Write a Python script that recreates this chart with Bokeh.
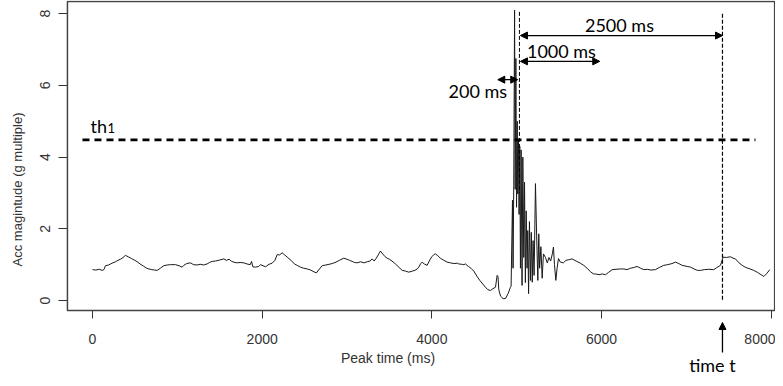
from bokeh.plotting import figure
from bokeh.models import Range1d, FixedTicker, Label, Arrow, NormalHead, ColumnDataSource, LinearAxis
from bokeh.embed import file_html
from bokeh.resources import INLINE

# ---- data ----
peak_time_ms = [
    0, 40, 80, 114, 135, 153, 190, 230, 271, 300, 330, 360, 389, 420, 460, 500, 527, 560, 600, 640,
    664, 700, 730, 762, 800, 841, 880, 920, 978, 1020, 1057, 1076, 1110, 1155, 1190, 1233, 1270, 1310, 1351, 1380,
    1410, 1450, 1500, 1548, 1580, 1610, 1640, 1666, 1700, 1740, 1784, 1820, 1860, 1875, 1890, 1921, 1960, 1980, 2040, 2080,
    2118, 2150, 2177, 2205, 2236, 2260, 2295, 2340, 2380, 2412, 2451, 2490, 2530, 2570, 2610, 2640, 2665, 2707, 2750, 2790,
    2825, 2870, 2910, 2962, 3000, 3030, 3060, 3090, 3119, 3160, 3200, 3237, 3270, 3296, 3320, 3345, 3375, 3394, 3420, 3450,
    3473, 3500, 3530, 3571, 3610, 3650, 3690, 3728, 3770, 3800, 3827, 3846, 3866, 3885, 3910, 3944, 3980, 4000, 4023, 4042,
    4070, 4100, 4141, 4180, 4220, 4259, 4300, 4317, 4350, 4377, 4396, 4430, 4460, 4494, 4530, 4565, 4600, 4632, 4660, 4691,
    4720, 4750, 4769, 4780, 4789, 4810, 4840, 4870, 4900, 4926, 4934, 4950, 4957, 4965, 4975, 4982, 4990, 4998, 5006, 5012,
    5020, 5028, 5036, 5044, 5052, 5063, 5072, 5083, 5092, 5102, 5112, 5122, 5130, 5140, 5150, 5162, 5172, 5183, 5193, 5205,
    5221, 5235, 5249, 5260, 5270, 5285, 5300, 5315, 5339, 5360, 5380, 5400, 5420, 5433, 5445, 5461, 5476, 5492, 5515, 5550,
    5580, 5620, 5653, 5700, 5750, 5790, 5830, 5870, 5906, 5928, 5970, 6010, 6046, 6080, 6125, 6170, 6223, 6262, 6300, 6340,
    6380, 6419, 6460, 6498, 6540, 6580, 6635, 6680, 6733, 6780, 6830, 6871, 6910, 6950, 7009, 7050, 7090, 7130, 7166, 7210,
    7260, 7322, 7360, 7401, 7433, 7470, 7519, 7550, 7578, 7620, 7657, 7700, 7750, 7794, 7840, 7880, 7912, 7950, 7982,
]
acc_magnitude = [
    0.86, 0.85, 0.87, 0.84, 0.86, 0.97, 0.99, 1.04, 1.08, 1.12, 1.15, 1.20, 1.26, 1.22, 1.17, 1.12, 1.08, 1.02, 0.96, 0.90,
    0.88, 0.86, 0.85, 0.84, 0.90, 0.97, 0.99, 1.00, 1.00, 0.97, 0.93, 0.98, 1.03, 1.05, 1.00, 0.99, 1.01, 0.99, 1.02, 1.06,
    1.09, 1.10, 1.13, 1.16, 1.12, 1.15, 1.09, 1.07, 1.05, 1.06, 1.05, 1.02, 1.00, 1.09, 0.94, 0.93, 0.95, 1.00, 0.94, 1.01,
    1.04, 1.12, 1.28, 1.27, 1.33, 1.28, 1.21, 1.12, 1.02, 0.98, 0.93, 0.90, 0.88, 0.85, 0.80, 0.77, 0.85, 0.97, 0.99, 1.01,
    1.03, 1.07, 1.12, 1.18, 1.15, 1.12, 1.09, 1.06, 1.05, 1.08, 1.05, 1.08, 1.10, 1.16, 1.10, 1.18, 1.30, 1.38, 1.30, 1.22,
    1.18, 1.15, 1.10, 1.02, 0.93, 0.84, 0.82, 0.79, 0.82, 0.84, 0.88, 0.93, 1.02, 1.07, 1.02, 0.98, 1.15, 1.22, 1.28, 1.30,
    1.25, 1.18, 1.12, 1.07, 1.05, 1.03, 1.04, 1.02, 1.01, 1.00, 1.02, 0.95, 0.90, 0.82, 0.68, 0.56, 0.46, 0.37, 0.30, 0.28,
    0.33, 0.37, 0.70, 0.66, 0.30, 0.12, 0.05, 0.06, 0.20, 0.37, 0.40, 2.80, 0.90, 3.20, 8.10, 3.10, 6.75, 2.60, 5.00, 2.97,
    4.50, 2.40, 4.30, 0.90, 4.20, 0.42, 4.00, 1.20, 3.30, 0.50, 2.50, 0.90, 1.95, 0.19, 2.20, 0.56, 1.90, 0.51, 1.67, 0.70,
    3.26, 1.80, 0.56, 1.86, 0.90, 1.50, 0.62, 1.30, 1.20, 1.05, 1.20, 1.10, 1.30, 1.49, 1.00, 0.56, 0.90, 1.17, 1.07, 1.05,
    1.12, 1.14, 1.16, 1.10, 1.04, 0.98, 0.90, 0.80, 0.74, 0.74, 0.72, 0.74, 0.72, 0.78, 0.86, 0.87, 0.88, 0.88, 0.86, 0.90,
    0.92, 0.95, 0.90, 0.86, 0.87, 0.85, 0.86, 0.92, 0.98, 1.00, 1.03, 1.07, 1.03, 0.98, 0.95, 0.93, 0.88, 0.84, 0.84, 0.86,
    0.87, 0.86, 0.92, 0.98, 1.21, 1.20, 1.22, 1.18, 1.16, 1.05, 0.98, 0.92, 0.88, 0.84, 0.78, 0.72, 0.67, 0.76, 0.86,
]
x_ticks = [0, 2000, 4000, 6000, 8000]
y_ticks = [0, 2, 4, 6, 8]
threshold = 4.48
peak_time = 5032
time_t = 7425
# plot box (R-style) in data units
box_x = (-295, 8040)
box_y = (-0.279, 8.34)
# annotation arrows: (x_start, x_end, y)
arrow_2500 = (5044, 7425, 7.39)
arrow_1000 = (5044, 5979, 6.67)
arrow_200 = (4777, 5012, 6.16)

ANN_FONT = "Lato"
AX_COLOR = "#333333"

p = figure(width=775, height=378, output_backend="svg", toolbar_location=None,
           x_range=Range1d(-1084, 8050), y_range=Range1d(-2.176, 8.368),
           x_axis_location=None, y_axis_location=None,
           min_border_left=0, min_border_right=0, min_border_top=0, min_border_bottom=0)
p.grid.visible = False
p.outline_line_color = None
p.background_fill_color = "white"
p.border_fill_color = "white"

xax = LinearAxis(fixed_location=box_y[0], ticker=FixedTicker(ticks=x_ticks), axis_label="Peak time (ms)")
yax = LinearAxis(fixed_location=box_x[0], ticker=FixedTicker(ticks=y_ticks), axis_label="Acc magintude (g multiple)")
for ax in (xax, yax):
    ax.axis_line_color = None
    ax.major_tick_out = 8
    ax.major_tick_in = 0
    ax.minor_tick_line_color = None
    ax.major_tick_line_color = AX_COLOR
    ax.major_label_text_font = "Liberation Sans"
    ax.major_label_text_font_size = "14px"
    ax.major_label_text_color = AX_COLOR
    ax.axis_label_text_font = "Liberation Sans"
    ax.axis_label_text_font_style = "normal"
    ax.axis_label_text_color = AX_COLOR
xax.axis_label_text_font_size = "14px"
xax.major_label_standoff = 16
xax.axis_label_standoff = 2
yax.axis_label_text_font_size = "13px"
yax.major_label_orientation = "vertical"
yax.major_tick_out = 9
yax.major_label_standoff = 8
yax.axis_label_standoff = 13
p.add_layout(xax, "below")
p.add_layout(yax, "left")

# plot box
p.quad(left=[box_x[0]], right=[box_x[1]], bottom=[box_y[0]], top=[box_y[1]],
       fill_color=None, line_color="#444444", line_width=1.5)

src = ColumnDataSource(dict(x=peak_time_ms, y=acc_magnitude))
p.line("x", "y", source=src, line_color="#1a1a1a", line_width=1.0)

# threshold line
p.line([-118, 7814], [threshold, threshold], line_color="black", line_width=2.6, line_dash="7 5")
# vertical dashed markers
p.line([peak_time, peak_time], [8.05, 3.0], line_color="black", line_width=1, line_dash="4 2")
p.line([time_t, time_t], [8.0, 0.0], line_color="black", line_width=1.2, line_dash="4 2")

def dbl_arrow(x0, x1, y):
    p.add_layout(Arrow(x_start=x0, x_end=x1, y_start=y, y_end=y, line_width=1.3, line_color="black",
                       start=NormalHead(size=7, fill_color="black", line_color="black"),
                       end=NormalHead(size=7, fill_color="black", line_color="black")))

dbl_arrow(*arrow_2500)
dbl_arrow(*arrow_1000)
dbl_arrow(*arrow_200)

# time t arrow below axis
p.add_layout(Arrow(x_start=time_t, x_end=time_t, y_start=-1.45, y_end=-0.614, line_width=1.3,
                   line_color="black", end=NormalHead(size=7, fill_color="black", line_color="black")))

def lab(x, y, t, size="18px", align="left"):
    p.add_layout(Label(x=x, y=y, text=t, text_font=ANN_FONT, text_font_size=size, text_color="black",
                       text_align=align, text_baseline="alphabetic"))

lab(6211, 7.68, "2500 ms", align="center")
lab(5527, 6.97, "1000 ms", align="center")
lab(4196, 5.84, "200 ms")
lab(7307, -1.81, "time t", align="center")
lab(-24, 4.88, "th")
lab(177, 4.80, "1", size="13px")

open("out.html", "w").write(file_html(p, INLINE))
